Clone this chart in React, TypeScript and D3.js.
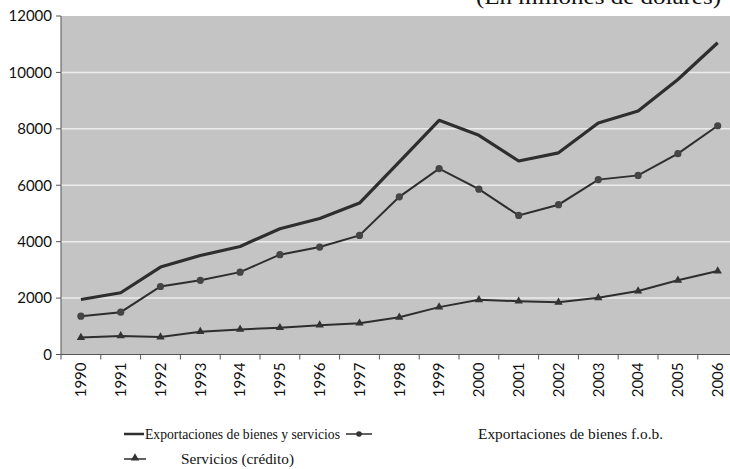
import React from "react";
import * as d3 from "d3";

const years = ["1990","1991","1992","1993","1994","1995","1996","1997","1998","1999","2000","2001","2002","2003","2004","2005","2006"];
const bienesServicios = [1950,2190,3100,3510,3830,4460,4820,5370,6830,8300,7770,6860,7150,8210,8630,9750,11050];
const bienesFob = [1360,1500,2410,2630,2920,3540,3810,4220,5590,6590,5860,4930,5310,6200,6350,7120,8110];
const servicios = [600,660,620,810,890,950,1040,1110,1320,1680,1940,1890,1850,2010,2250,2630,2960];
const yTicks = [0,2000,4000,6000,8000,10000,12000];

const W = 730, H = 469;
const left = 61, top = 16, bottom = 354.5, bandW = 39.8;

export default function App() {
  const x = d3.scaleBand().domain(years).range([left, left + years.length * bandW]).padding(0);
  const y = d3.scaleLinear().domain([0, 12000]).range([bottom, top]);
  const cx = (yr: string) => (x(yr) as number) + x.bandwidth() / 2;
  const line = d3.line<number>().x((_, i) => cx(years[i])).y((v) => y(v));
  const right = left + years.length * bandW;
  const tri = d3.symbol().type(d3.symbolTriangle).size(30)() as string;
  const lineColor = "#2e2e2e";
  return (
    <svg width={W} height={H} style={{ position: "absolute", left: 0, top: 0, background: "#fff" }}>
      <text x={476} y={4} fontFamily="Liberation Serif" fontSize={22} fill="#111" textLength={245} lengthAdjust="spacingAndGlyphs">(En millones de dólares)</text>
      <rect x={left} y={top} width={right - left} height={bottom - top} fill="#c4c4c4" />
      {yTicks.filter((t) => t > 0 && t < 12000).map((t) => (
        <line key={t} x1={left} x2={right} y1={y(t)} y2={y(t)} stroke="#ececec" strokeWidth={1.5} />
      ))}
      {/* y axis */}
      <line x1={left} x2={left} y1={top} y2={bottom} stroke="#555" strokeWidth={1} />
      {yTicks.map((t) => (
        <g key={t}>
          <line x1={left - 5} x2={left} y1={y(t)} y2={y(t)} stroke="#555" />
          <text x={52} y={y(t)} dy="0.35em" textAnchor="end" fontFamily="Lato" fontSize={15} fill="#111">{t}</text>
        </g>
      ))}
      {/* x axis */}
      <line x1={left} x2={right} y1={bottom} y2={bottom} stroke="#555" />
      {years.map((yr) => (
        <g key={yr}>
          <line x1={x(yr) as number} x2={x(yr) as number} y1={bottom} y2={bottom + 5} stroke="#555" />
          <text transform={`translate(${cx(yr)},${bottom + 8}) rotate(-90)`} textAnchor="end" dy="0.35em" fontFamily="Lato" fontSize={15} fill="#111">{yr}</text>
        </g>
      ))}
      {/* series */}
      <path d={line(bienesServicios) as string} fill="none" stroke={lineColor} strokeWidth={3.2} strokeLinejoin="round" />
      <path d={line(bienesFob) as string} fill="none" stroke={lineColor} strokeWidth={2} />
      {bienesFob.map((v, i) => (
        <circle key={i} cx={cx(years[i])} cy={y(v)} r={3.6} fill="#444" />
      ))}
      <path d={line(servicios) as string} fill="none" stroke={lineColor} strokeWidth={2} />
      {servicios.map((v, i) => (
        <path key={i} d={tri} transform={`translate(${cx(years[i])},${y(v)})`} fill="#333" />
      ))}
      {/* legend */}
      <g fontFamily="Liberation Serif" fontSize={14.5} fill="#111">
        <line x1={124} x2={144} y1={434} y2={434} stroke={lineColor} strokeWidth={2.5} />
        <text x={145} y={434} dy="0.35em" textLength={195} lengthAdjust="spacingAndGlyphs">Exportaciones de bienes y servicios</text>
        <line x1={346} x2={372} y1={434} y2={434} stroke={lineColor} strokeWidth={1.5} />
        <circle cx={359} cy={434} r={2.8} fill="#333" />
        <text x={478} y={434} dy="0.35em" textLength={185} lengthAdjust="spacingAndGlyphs">Exportaciones de bienes f.o.b.</text>
        <line x1={124} x2={146} y1={459} y2={459} stroke={lineColor} strokeWidth={1.5} />
        <path d={tri} transform="translate(135,458)" fill="#333" />
        <text x={181} y={459} dy="0.35em" textLength={113} lengthAdjust="spacingAndGlyphs">Servicios (crédito)</text>
      </g>
    </svg>
  );
}
